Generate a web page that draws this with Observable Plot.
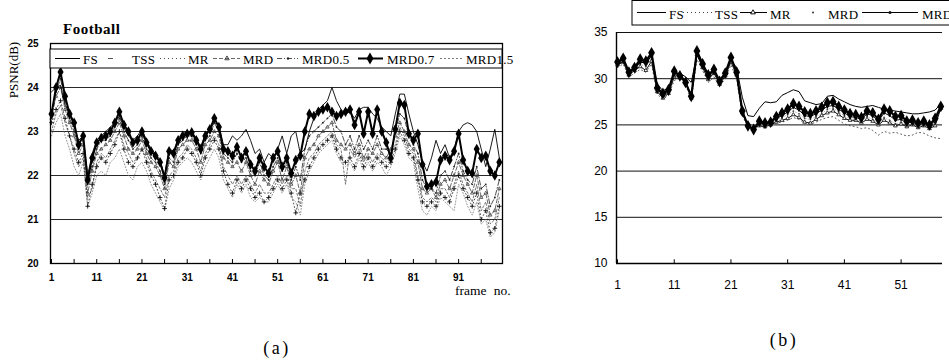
<!DOCTYPE html>
<html><head><meta charset="utf-8">
<script src="https://cdn.jsdelivr.net/npm/d3@7"></script>
<script src="https://cdn.jsdelivr.net/npm/@observablehq/plot@0.6"></script>
<style>
body{margin:0;background:#fff;}
#wrap{position:relative;width:949px;height:362px;overflow:hidden;background:#fff;}
</style></head><body><div id="wrap"></div>
<script>
// ---------- Panel (a): Football, frames 1..100 ----------
const framesA = d3.range(1, 101);
const yTicksA = [20, 21, 22, 23, 24, 25];
const gridA = [21, 22, 23, 24];
const xLabelsA = [1, 11, 21, 31, 41, 51, 61, 71, 81, 91];
const minorTicksA = [1, 6, 11, 16, 21, 26, 31, 36, 41, 46, 51, 56, 61, 66, 71, 76, 81, 86, 91, 96];

const fsA = [23.9,24.0,24.05,23.6,23.4,23.1,22.8,22.9,22.0,22.5, 22.8,22.9,23.0,23.1,23.2,23.35,23.1,22.9,22.8,22.9, 23.05,22.8,22.6,22.5,22.35,22.0,22.6,22.55,22.85,22.95, 23.0,23.0,22.85,22.65,22.95,23.05,23.2,23.15,22.7,22.7, 22.9,22.8,22.9,23.05,22.8,22.5,22.6,22.3,22.5,22.4, 22.6,22.9,22.5,22.9,23.0,22.5,22.6,23.0,23.3,23.5, 23.6,23.7,24.0,23.7,23.5,23.4,23.45,23.3,23.5,23.55, 23.55,23.4,23.3,23.1,23.0,22.9,23.4,23.85,23.85,23.4, 23.0,22.7,22.3,22.1,22.4,22.8,22.5,22.7,22.4,22.6, 23.0,23.15,23.2,23.15,23.0,22.6,22.2,22.6,23.05,22.4];
const tssA = [22.9,23.2,23.4,22.9,22.6,22.2,22.0,22.3,21.3,21.6, 22.0,22.1,22.0,22.3,22.4,22.6,22.3,22.0,21.9,22.2, 22.3,22.1,21.8,21.6,21.4,21.2,21.7,21.9,22.2,22.3, 22.4,22.3,22.1,21.9,22.2,22.4,22.6,22.4,21.9,21.7, 21.5,21.8,21.6,21.8,21.5,21.4,21.5,21.4,21.4,21.6, 21.8,21.6,21.8,21.5,21.4,21.1,21.8,22.1,22.3,22.5, 22.6,22.7,22.8,22.5,22.3,22.2,22.3,22.1,22.4,22.1, 22.3,22.1,22.3,22.2,22.0,22.2,22.5,22.9,22.7,22.4, 22.3,21.7,21.2,21.1,21.3,21.2,21.5,21.4,21.3,21.2, 21.8,21.6,21.3,21.1,21.4,20.9,21.0,20.6,20.7,21.2];
const mrA = [23.2,23.5,23.7,23.3,22.9,22.6,22.3,22.5,21.3,21.8, 22.2,22.4,22.3,22.5,22.7,23.0,22.6,22.3,22.2,22.4, 22.6,22.3,22.0,21.8,21.5,21.25,21.9,22.0,22.3,22.4, 22.6,22.5,22.3,22.0,22.4,22.6,22.8,22.6,22.1,21.8, 21.6,21.9,21.7,21.9,21.7,21.5,21.6,21.4,21.5,21.7, 21.9,21.7,21.9,21.6,21.15,21.6,21.9,22.2,22.4,22.6, 22.7,22.8,22.9,22.6,22.4,22.3,22.4,22.2,22.5,22.2, 22.4,22.2,22.4,22.3,22.2,22.3,22.6,23.0,22.8,22.5, 22.4,21.9,21.4,21.3,21.4,21.3,21.6,21.5,21.4,21.7, 22.0,21.7,21.5,21.3,21.6,21.0,21.2,20.7,20.8,21.3];
const mrdA = [23.3,23.8,24.0,23.5,23.2,22.9,22.5,22.7,21.6,22.1, 22.5,22.6,22.7,22.8,23.0,23.2,22.9,22.6,22.5,22.6, 22.8,22.5,22.3,22.2,22.0,21.7,22.3,22.2,22.6,22.7, 22.8,22.8,22.6,22.3,22.7,22.8,23.0,22.9,22.4,22.3, 22.2,22.3,22.1,22.3,22.0,21.8,22.1,21.9,21.8,22.1, 22.3,21.9,22.2,21.8,22.0,21.6,22.4,22.6,22.7,22.9, 23.0,23.1,23.2,22.8,22.7,22.6,22.7,22.5,22.7,22.4, 22.6,22.5,22.7,22.5,22.4,22.6,22.9,23.2,23.0,22.7, 22.6,22.3,21.7,21.6,21.7,21.5,21.8,21.9,21.7,22.0, 22.3,22.0,21.8,21.6,22.0,21.5,21.6,21.1,21.2,21.7];
const mrd05A = [23.35,23.9,24.2,23.7,23.3,23.0,22.6,22.8,21.8,22.2, 22.6,22.8,22.8,22.9,23.1,23.3,23.0,22.8,22.6,22.7, 22.9,22.6,22.4,22.3,22.1,21.8,22.4,22.3,22.7,22.8, 22.9,22.9,22.7,22.5,22.8,22.9,23.2,23.0,22.5,22.4, 22.3,22.5,22.3,22.4,22.1,22.0,22.3,22.0,21.9,22.2, 22.4,22.1,22.3,21.9,22.2,21.9,22.6,22.9,23.0,23.1, 23.2,23.3,23.4,23.1,23.0,22.7,22.9,22.6,22.9,22.6, 22.8,22.6,22.9,22.6,22.6,22.5,23.0,23.4,23.3,22.9, 22.7,22.5,21.9,21.7,21.7,21.6,22.0,22.1,21.9,22.2, 22.5,22.1,21.9,21.8,22.2,21.7,21.8,21.3,21.5,21.9];
const mrd07A = [23.4,24.0,24.35,23.8,23.4,23.2,22.7,22.9,21.9,22.4, 22.75,22.85,22.9,23.0,23.2,23.45,23.15,23.0,22.75,22.8, 23.0,22.75,22.55,22.45,22.3,21.95,22.55,22.5,22.8,22.9, 22.95,22.98,22.8,22.6,22.9,23.05,23.3,23.1,22.6,22.55, 22.45,22.65,22.4,22.55,22.25,22.1,22.4,22.2,22.05,22.4, 22.55,22.2,22.4,22.05,22.35,22.45,23.0,23.4,23.35,23.45, 23.5,23.55,23.45,23.35,23.4,23.45,23.5,23.15,23.45,22.95, 23.45,22.95,23.5,23.0,22.75,22.4,23.05,23.65,23.6,22.95, 22.8,22.95,22.25,21.75,21.8,21.85,22.35,22.45,22.35,22.55, 22.95,22.35,22.1,22.05,22.6,22.4,22.45,22.1,22.0,22.3];
const mrd15A = [23.0,23.4,23.6,23.2,22.9,22.5,22.2,22.4,21.5,21.7, 22.3,22.5,22.4,22.6,22.8,23.0,22.7,22.5,22.3,22.4, 22.6,22.4,22.1,21.9,21.7,21.5,22.0,22.1,22.4,22.5, 22.7,22.6,22.4,22.1,22.5,22.7,22.9,22.7,22.2,22.0, 21.8,22.0,21.8,22.0,21.8,21.6,21.8,21.6,21.6,21.8, 22.0,21.8,22.0,21.7,21.7,21.3,22.1,22.4,22.5,22.7, 22.8,22.9,23.0,22.7,22.6,21.8,22.6,22.4,22.6,22.3, 22.5,22.3,22.5,22.4,22.3,22.4,22.7,23.1,22.9,22.6, 22.5,22.0,21.5,21.4,21.5,21.4,21.7,21.7,21.5,21.8, 22.1,21.8,21.6,21.4,21.8,21.2,21.4,20.9,21.0,21.5];

// ---------- Panel (b): frames 1..58 ----------
const framesB = d3.range(1, 59);
const yTicksB = [10, 15, 20, 25, 30, 35];
const gridB = [15, 20, 25, 30, 35];
const xLabelsB = [1, 11, 21, 31, 41, 51];

const fsB = [31.5,31.9,30.9,31.0,31.8,31.7,32.5,29.4,28.7,29.0, 30.6,30.6,30.2,29.6,32.6,31.4,30.3,30.9,29.9,30.7, 32.0,31.2,28.0,26.0,25.9,26.8,27.5,27.4,27.5,28.2, 28.5,28.8,28.6,27.6,27.4,27.2,27.3,28.1,28.2,27.8, 27.5,27.2,27.0,26.9,27.0,27.1,26.9,26.7,26.6,26.5, 26.4,26.3,26.2,26.2,26.3,26.4,26.6,27.3];
const tssB = [31.2,31.6,30.2,30.6,31.0,30.7,31.6,28.3,27.8,28.2, 29.8,30.1,29.4,27.6,32.1,30.9,29.6,30.2,29.2,30.0, 31.5,30.0,26.0,24.8,24.7,24.9,24.9,25.1,25.2,25.3, 25.5,25.8,25.6,25.2,25.1,25.3,25.6,25.8,25.9,25.5, 25.1,24.9,24.8,24.6,24.7,24.4,23.9,24.3,24.1,24.2, 24.0,23.8,23.9,24.2,24.1,23.8,23.6,23.5];
const mrB = [31.5,31.8,30.4,30.9,31.3,30.9,31.9,28.6,27.9,28.4, 30.2,30.5,29.8,27.9,32.6,31.2,29.9,30.6,29.4,30.3, 31.8,30.4,26.3,24.8,24.7,24.9,24.8,25.0,25.3,25.5, 25.7,26.1,25.8,25.3,25.2,25.6,26.0,26.3,26.5,26.1, 25.7,25.5,25.5,25.2,25.6,25.4,25.0,25.5,25.2,24.9, 25.1,24.8,25.0,24.7,24.9,24.6,24.9,26.8];
const mrdB = [31.6,32.0,30.5,31.0,31.6,31.3,32.2,28.8,28.1,28.5, 30.4,30.6,29.8,28.0,32.7,31.3,30.1,30.8,29.5,30.4, 32.0,30.5,26.4,24.9,24.8,25.1,25.0,25.2,25.5,25.8, 26.1,26.5,26.2,25.7,25.6,25.9,26.2,26.7,26.8,26.4, 26.0,25.7,25.6,25.4,25.9,25.6,25.2,25.8,25.5,25.1, 25.3,25.0,25.1,24.9,25.0,24.7,25.1,26.9];
const mrd05B = [31.7,32.1,30.6,31.1,31.9,31.6,32.5,28.9,28.2,28.6, 30.6,30.4,29.7,28.0,32.8,31.5,30.2,30.9,29.6,30.5, 32.2,30.6,26.5,24.9,24.6,25.2,25.1,25.2,25.7,26.0, 26.4,26.9,26.6,26.0,25.9,26.2,26.6,27.0,27.1,26.7, 26.3,25.9,25.8,25.6,26.2,26.0,25.4,26.3,26.0,25.5, 25.6,25.2,25.3,25.0,25.2,24.8,25.4,26.9];
const mrd07B = [31.8,32.2,30.7,31.2,32.1,31.9,32.8,29.0,28.4,28.8, 30.8,30.3,29.6,28.1,33.0,31.6,30.4,31.0,29.7,30.6, 32.3,30.7,26.5,24.9,24.5,25.4,25.2,25.3,25.9,26.3, 26.7,27.3,27.0,26.4,26.2,26.5,26.9,27.4,27.5,27.0, 26.6,26.2,26.1,25.8,26.5,26.3,25.6,26.7,26.5,25.9, 26.0,25.4,25.5,25.2,25.4,25.0,25.7,27.0];

const legendA = ["FS", "TSS", "MR", "MRD", "MRD0.5", "MRD0.7", "MRD1.5"];
const legendB = ["FS", "TSS", "MR", "MRD", "MRD0.5", "MRD0.7"];

const rows = (frames, vals) => frames.map((f, i) => ({f, v: vals[i]}));
const wrap = document.getElementById("wrap");
const SANS = "Liberation Sans, Arial, sans-serif";
const SERIF = "Liberation Serif, Times New Roman, serif";

// ---------- Plot (a) ----------
const a = {fs: rows(framesA, fsA), tss: rows(framesA, tssA), mr: rows(framesA, mrA), mrd: rows(framesA, mrdA),
  m05: rows(framesA, mrd05A), m07: rows(framesA, mrd07A), m15: rows(framesA, mrd15A)};
const L = {x: "f", y: "v"};
const plotA = Plot.plot({
  width: 520, height: 300,
  marginLeft: 50, marginRight: 18, marginTop: 43, marginBottom: 37,
  x: {domain: [0.78, 100.7]},
  y: {domain: [20, 25]},
  style: {fontFamily: SANS, background: "transparent", overflow: "visible", color: "#000"},
  marks: [
    Plot.ruleY(gridA, {stroke: "#111", strokeWidth: 0.9}),
    Plot.ruleX(minorTicksA, {x: d => d, y1: 20, y2: 20.09, stroke: "#000", strokeWidth: 1}),
    Plot.line(a.tss, {...L, stroke: "#777", strokeWidth: 0.8, strokeDasharray: "1,2"}),
    Plot.line(a.m15, {...L, stroke: "#555", strokeWidth: 0.8, strokeDasharray: "2,2"}),
    Plot.line(a.mr, {...L, stroke: "#222", strokeWidth: 0.8, strokeDasharray: "1,2.5"}),
    Plot.dot(a.mr, {...L, symbol: "plus", r: 1.6, stroke: "#111", strokeWidth: 0.9}),
    Plot.line(a.mrd, {...L, stroke: "#444", strokeWidth: 0.8, strokeDasharray: "4,2"}),
    Plot.dot(a.mrd, {...L, symbol: "triangle2", r: 1.6, stroke: "#444", strokeWidth: 0.8}),
    Plot.line(a.m05, {...L, stroke: "#222", strokeWidth: 0.8, strokeDasharray: "5,2,1,2"}),
    Plot.dot(a.m05, {...L, r: 0.9, fill: "#222"}),
    Plot.line(a.fs, {...L, stroke: "#000", strokeWidth: 0.9}),
    Plot.line(a.m07, {...L, stroke: "#000", strokeWidth: 2}),
    Plot.dot(a.m07, {...L, symbol: "diamond", r: 3.2, fill: "#000"}),
    Plot.frame({stroke: "#000", strokeWidth: 1.3}),
    Plot.axisY(yTicksA, {tickSize: 0, tickPadding: 12, fontWeight: "bold", fontSize: 10, label: null}),
    Plot.axisX(xLabelsA, {tickSize: 0, tickPadding: 10, fontWeight: "bold", fontSize: 10, label: null})
  ]
});
plotA.style.position = "absolute"; plotA.style.left = "0px"; plotA.style.top = "0px";
wrap.append(plotA);

// ---------- Plot (b) ----------
const b = {fs: rows(framesB, fsB), tss: rows(framesB, tssB), mr: rows(framesB, mrB), mrd: rows(framesB, mrdB),
  m05: rows(framesB, mrd05B), m07: rows(framesB, mrd07B)};
const plotB = Plot.plot({
  width: 429, height: 300,
  marginLeft: 96, marginRight: 7, marginTop: 32, marginBottom: 37,
  x: {domain: [0.82, 58.3]},
  y: {domain: [10, 35]},
  style: {fontFamily: SANS, background: "transparent", overflow: "visible", color: "#000"},
  marks: [
    Plot.ruleY(gridB, {stroke: "#111", strokeWidth: 1}),
    Plot.ruleY([10], {stroke: "#000", strokeWidth: 1.4}),
    Plot.ruleX([0.82], {stroke: "#000", strokeWidth: 1.4}),
    Plot.ruleX(xLabelsB, {x: d => d, y1: 10, y2: 10.4, stroke: "#000", strokeWidth: 1}),
    Plot.line(b.tss, {...L, stroke: "#444", strokeWidth: 0.9, strokeDasharray: "1,3"}),
    Plot.dot(b.mrd, {...L, r: 0.9, fill: "#333"}),
    Plot.line(b.mrd, {...L, stroke: "#888", strokeWidth: 0.6, strokeDasharray: "1,2"}),
    Plot.line(b.mr, {...L, stroke: "#111", strokeWidth: 1}),
    Plot.dot(b.mr, {...L, symbol: "triangle2", r: 1.8, stroke: "#111", fill: "#fff", strokeWidth: 0.8}),
    Plot.line(b.m05, {...L, stroke: "#111", strokeWidth: 1}),
    Plot.dot(b.m05, {...L, r: 1.2, fill: "#111"}),
    Plot.line(b.fs, {...L, stroke: "#000", strokeWidth: 1}),
    Plot.line(b.m07, {...L, stroke: "#000", strokeWidth: 2.2}),
    Plot.dot(b.m07, {...L, symbol: "diamond", r: 3.6, fill: "#000"}),
    Plot.axisY(yTicksB, {tickSize: 0, tickPadding: 9, fontSize: 12, label: null}),
    Plot.axisX(xLabelsB, {tickSize: 0, tickPadding: 17, fontSize: 12, label: null})
  ]
});
plotB.style.position = "absolute"; plotB.style.left = "520px"; plotB.style.top = "0px";
wrap.append(plotB);

// ---------- overlay: titles, legends, captions ----------
const svg = d3.select(wrap).append("svg")
  .attr("width", 949).attr("height", 362)
  .style("position", "absolute").style("left", "0px").style("top", "0px");

svg.append("text").attr("x", 63).attr("y", 34).text("Football")
  .attr("font-family", SERIF).attr("font-weight", "bold").attr("font-size", 15).attr("letter-spacing", 0.5);
svg.append("text").attr("transform", "translate(18,70) rotate(-90)").attr("text-anchor", "middle")
  .attr("font-family", SERIF).attr("font-size", 13).text("PSNR(dB)");
svg.append("text").attr("x", 455).attr("y", 295).attr("font-family", SERIF).attr("font-size", 13.5)
  .attr("word-spacing", 4).text("frame no.");
svg.append("text").attr("x", 277).attr("y", 354).attr("text-anchor", "middle")
  .attr("font-family", SERIF).attr("font-size", 18).attr("letter-spacing", 2.5).text("(a)");
svg.append("text").attr("x", 784).attr("y", 346).attr("text-anchor", "middle")
  .attr("font-family", SERIF).attr("font-size", 18).attr("letter-spacing", 2.5).text("(b)");

const sym = (type, size) => d3.symbol(type, size)();
// legend (a)
const gA = svg.append("g");
gA.append("rect").attr("x", 50).attr("y", 49).attr("width", 452).attr("height", 19)
  .attr("fill", "#fff").attr("stroke", "#000").attr("stroke-width", 1);
const ly = 58.5, ty = 63.5;
const seg = (g, x1, x2, y, w, dash, col) => g.append("line").attr("x1", x1).attr("x2", x2).attr("y1", y).attr("y2", y)
  .attr("stroke", col || "#000").attr("stroke-width", w).attr("stroke-dasharray", dash || null);
const txt = (g, x, y, s) => g.append("text").attr("x", x).attr("y", y).attr("font-family", SERIF)
  .attr("font-size", 13).attr("letter-spacing", 0.3).text(s);
seg(gA, 55, 80, ly, 1); txt(gA, 83, ty, legendA[0]);
seg(gA, 108, 113, ly, 1, null, "#555"); txt(gA, 132, ty, legendA[1]);
seg(gA, 160, 185, ly, 0.8, "1,3", "#222");
gA.append("path").attr("d", sym(d3.symbolPlus, 14)).attr("transform", `translate(172,${ly})`).attr("fill", "#000");
txt(gA, 188, ty, legendA[2]);
seg(gA, 213, 240, ly, 0.8, "4,2", "#444");
gA.append("path").attr("d", sym(d3.symbolTriangle2, 14)).attr("transform", `translate(227,${ly})`).attr("fill", "none").attr("stroke", "#444");
txt(gA, 243, ty, legendA[3]);
seg(gA, 277, 298, ly, 0.8, "5,2,1,2", "#222");
gA.append("circle").attr("cx", 288).attr("cy", ly).attr("r", 1.2).attr("fill", "#222");
txt(gA, 302, ty, legendA[4]);
seg(gA, 358, 383, ly, 2);
gA.append("path").attr("d", sym(d3.symbolDiamond, 40)).attr("transform", `translate(370,${ly})`).attr("fill", "#000");
txt(gA, 387, ty, legendA[5]);
seg(gA, 440, 463, ly, 0.8, "2,2", "#555");
txt(gA, 466, ty, legendA[6]);

// legend (b)
const gB = svg.append("g");
gB.append("rect").attr("x", 632).attr("y", 0.5).attr("width", 420).attr("height", 24.5)
  .attr("fill", "#fff").attr("stroke", "#000").attr("stroke-width", 1);
const lyB = 12.5, tyB = 18.5;
seg(gB, 637, 666, lyB, 1); txt(gB, 669, tyB, legendB[0]);
seg(gB, 683, 712, lyB, 1, "1,3", "#444"); txt(gB, 715, tyB, legendB[1]);
seg(gB, 740, 767, lyB, 1);
gB.append("path").attr("d", sym(d3.symbolTriangle2, 16)).attr("transform", `translate(753,${lyB})`).attr("fill", "#fff").attr("stroke", "#111");
txt(gB, 770, tyB, legendB[2]);
gB.append("circle").attr("cx", 813).attr("cy", lyB).attr("r", 1).attr("fill", "#333");
txt(gB, 828, tyB, legendB[3]);
seg(gB, 862, 918, lyB, 1);
gB.append("circle").attr("cx", 890).attr("cy", lyB).attr("r", 1.5).attr("fill", "#111");
txt(gB, 922, tyB, legendB[4]);
seg(gB, 975, 1005, lyB, 2);
gB.append("path").attr("d", sym(d3.symbolDiamond, 40)).attr("transform", `translate(990,${lyB})`).attr("fill", "#000");
txt(gB, 1008, tyB, legendB[5]);
</script>
</body></html>
